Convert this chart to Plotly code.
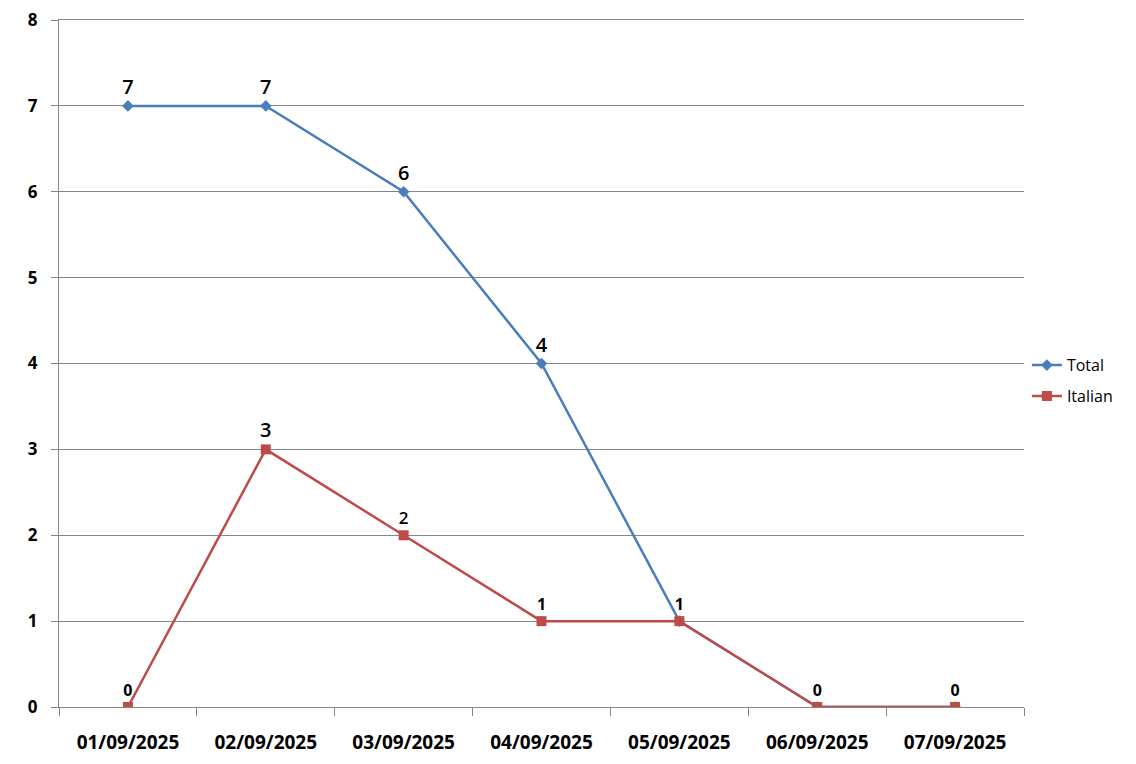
import plotly.graph_objects as go

dates = ["01/09/2025", "02/09/2025", "03/09/2025", "04/09/2025",
         "05/09/2025", "06/09/2025", "07/09/2025"]
total = [7, 7, 6, 4, 1, 0, 0]
italian = [0, 3, 2, 1, 1, 0, 0]
y_ticks = [0, 1, 2, 3, 4, 5, 6, 7, 8]

# labels shown above points (overlapping values labelled once)
total_labels = [str(v) for v in total[:4]] + ["", "", ""]
italian_labels = [str(v) for v in italian]

BLUE = "#4A7EBB"
RED = "#BE4B48"
GRID = "#868686"
FONT = "Open Sans"

fig = go.Figure()
fig.add_trace(go.Scatter(
    x=dates, y=total, name="Total", mode="lines+markers+text",
    line=dict(color=BLUE, width=2.5),
    marker=dict(symbol="diamond", size=9, color=BLUE),
    text=total_labels, textposition="top center",
    textfont=dict(family=FONT, size=20, weight=600, color="#000000"),
    legendgroup="a",
))
fig.add_trace(go.Scatter(
    x=dates, y=italian, name="Italian", mode="lines+markers+text",
    line=dict(color=RED, width=2.5),
    marker=dict(symbol="square", size=10, color=RED),
    text=italian_labels, textposition="top center",
    textfont=dict(family=FONT, size=[16, 20, 17, 16, 16, 16, 16],
                  weight=[700, 600, 600, 700, 700, 700, 700], color="#000000"),
    legendgroup="b",
))

fig.update_layout(
    width=1128, height=756,
    margin=dict(l=51, r=112, t=12, b=57),
    paper_bgcolor="white", plot_bgcolor="white",
    font=dict(family=FONT, color="#000000"),
    showlegend=True,
    legend=dict(x=1.003, xanchor="left", y=0.475, yanchor="middle",
                font=dict(family=FONT, size=16), tracegroupgap=7,
                bgcolor="rgba(0,0,0,0)"),
    xaxis=dict(type="category", range=[-0.5, 6.5], tickson="boundaries",
               ticks="outside", ticklen=8, tickcolor=GRID, automargin=False,
               showline=True, linecolor=GRID, linewidth=1, mirror=True,
               showgrid=False, zeroline=False, ticklabelstandoff=18,
               tickfont=dict(family=FONT, size=19, weight=700)),
    yaxis=dict(range=[0, 8], tickvals=y_ticks, ticks="outside", ticklen=7,
               tickcolor=GRID, showline=True, linecolor=GRID, linewidth=1,
               showgrid=True, gridcolor=GRID, gridwidth=1, zeroline=False,
               automargin=False, ticklabeloverflow="allow",
               tickfont=dict(family=FONT, size=17, weight=700), ticklabelstandoff=10),
)

fig.write_html("out.html")
